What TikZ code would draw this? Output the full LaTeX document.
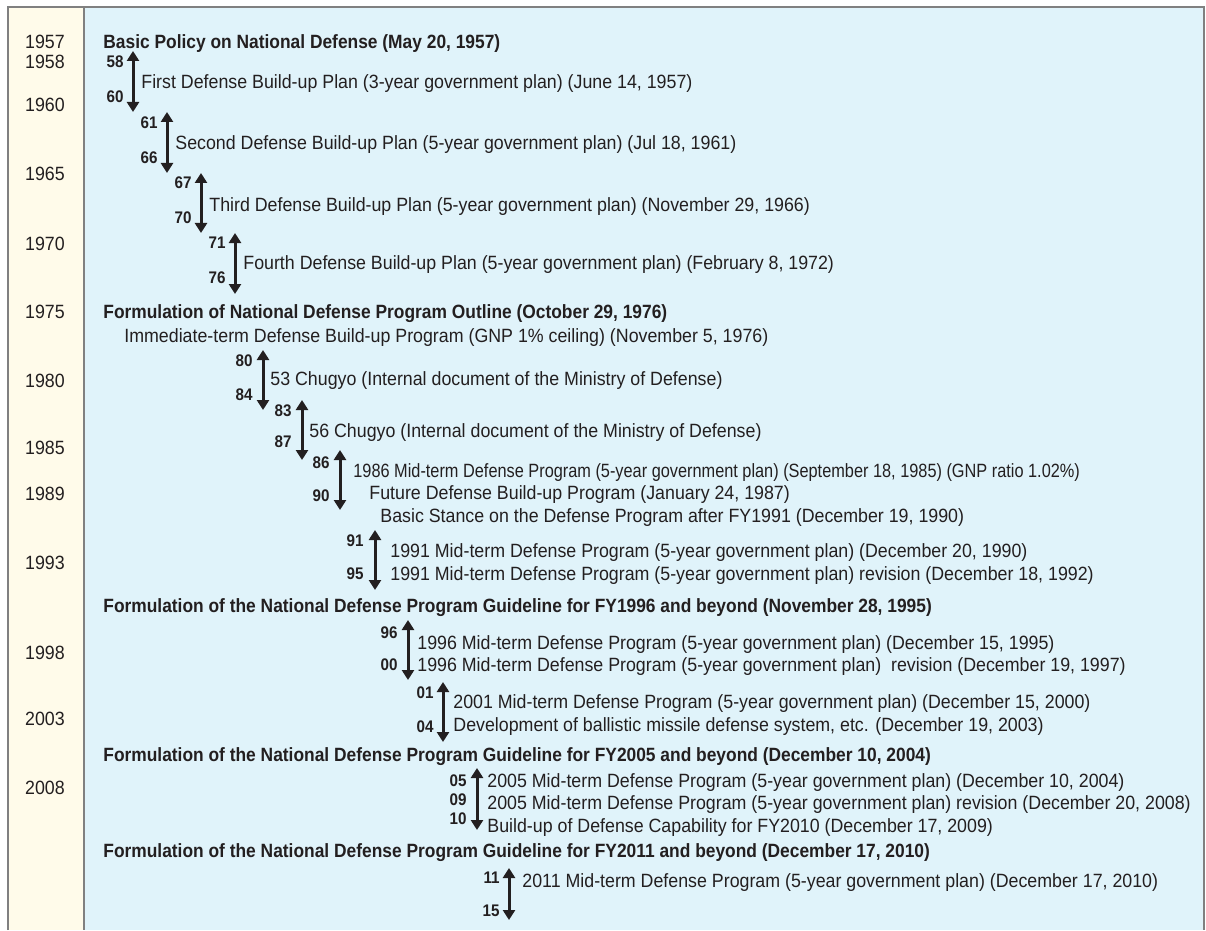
\documentclass[tikz,border=0pt]{standalone}
\usepackage{fontspec}
\setmainfont{Liberation Sans}[FakeStretch=0.927, BoldFeatures={FakeStretch=0.905}]
\newfontfamily\tightfont{Liberation Sans}[FakeStretch=0.85]
\usetikzlibrary{arrows.meta}

\definecolor{yearbg}{HTML}{FFFBEA}
\definecolor{planbg}{HTML}{E0F3FA}
\definecolor{ink}{HTML}{231F20}
\definecolor{rule}{HTML}{808080}

\begin{document}
\begin{tikzpicture}[x=0.5pt, y=-0.5pt,
    every node/.style={inner sep=0pt, text=ink, font=\fontsize{9.6}{11}\selectfont},
    plan/.style={anchor=base west, yshift=-3.5pt},
    head/.style={plan, font=\fontsize{9.6}{11}\selectfont\bfseries},
    year/.style={anchor=base, yshift=-3.5pt},
    tick/.style={anchor=base east, yshift=-3pt, font=\fontsize{8.4}{10}\selectfont\bfseries},
    span/.style={{Triangle[width=6pt,length=5pt]}-{Triangle[width=6pt,length=5pt]}, line width=1.5pt, draw=ink}]

  % frame
  \fill[white] (0,0) rectangle (1206,930);
  \fill[yearbg] (8,7) rectangle (84,930);
  \fill[planbg] (84,7) rectangle (1204,930);
  \draw[rule, line width=0.9pt] (8,930) -- (8,7) -- (1204,7) -- (1204,930);
  \draw[rule, line width=0.7pt] (84,7) -- (84,930);

  % year column
  \foreach \yr/\y in {1957/42, 1958/62, 1960/105, 1965/174, 1970/243, 1975/311, 1980/380,
                      1985/447, 1989/493, 1993/562, 1998/652, 2003/718, 2008/787}
    \node[year] (y\yr) at (45,\y) {\yr};

  % headings
  \node[head] (h1) at (103,42) {Basic Policy on National Defense (May 20, 1957)};
  \node[head] (h2) at (103,311) {Formulation of National Defense Program Outline (October 29, 1976)};
  \node[head] (h3) at (103,605) {Formulation of the National Defense Program Guideline for FY1996 and beyond (November 28, 1995)};
  \node[head] (h4) at (103,754) {Formulation of the National Defense Program Guideline for FY2005 and beyond (December 10, 2004)};
  \node[head] (h5) at (103,850) {Formulation of the National Defense Program Guideline for FY2011 and beyond (December 17, 2010)};

  % plan periods
  \foreach \n/\x/\t/\b in {1/133/51/112, 2/167/112/173, 3/201/173/233, 4/235/233/294,
                           5/263/350/410, 6/302/400/460, 7/340/450/510, 8/375/530/590,
                           9/408/620/680, 10/443/682/742, 11/477/768/830, 12/509/868/920}
  {
    \coordinate (a\n t) at (\x,\t);
    \coordinate (a\n b) at (\x,\b);
    \draw[span] (a\n t) -- (a\n b);
  }

  \foreach \lab/\x/\y in {58/124/62, 60/124/97, 61/158/123, 66/158/157, 67/192/183, 70/192/218,
                          71/226/243, 76/226/278, 80/253/360, 84/253/394, 83/292/410, 87/292/441,
                          86/330/462, 90/330/495, 91/364/540, 95/364/573, 96/398/632, 00/398/664,
                          01/434/692, 04/434/726, 05/467/780, 09/467/799, 10/467/818, 11/500/877, 15/500/910}
    \node[tick] (n\lab) at (\x,\y) {\lab};

  % plans
  \node[plan] (t1) at (141,82) {First Defense Build-up Plan (3-year government plan) (June 14, 1957)};
  \node[plan] (t2) at (175,143) {Second Defense Build-up Plan (5-year government plan) (Jul 18, 1961)};
  \node[plan] (t3) at (209,205) {Third Defense Build-up Plan (5-year government plan) (November 29, 1966)};
  \node[plan] (t4) at (243,263) {Fourth Defense Build-up Plan (5-year government plan) (February 8, 1972)};
  \node[plan] (t5) at (124,335) {Immediate-term Defense Build-up Program (GNP 1\% ceiling) (November 5, 1976)};
  \node[plan] (t6) at (270,378) {53 Chugyo (Internal document of the Ministry of Defense)};
  \node[plan] (t7) at (309,430) {56 Chugyo (Internal document of the Ministry of Defense)};
  \node[plan, font=\tightfont\fontsize{9.6}{11}\selectfont] (t8) at (353,470) {1986 Mid-term Defense Program (5-year government plan) (September 18, 1985) (GNP ratio 1.02\%)};
  \node[plan] (t9) at (369,492) {Future Defense Build-up Program (January 24, 1987)};
  \node[plan] (t10) at (380,515) {Basic Stance on the Defense Program after FY1991 (December 19, 1990)};
  \node[plan] (t11) at (390,550) {1991 Mid-term Defense Program (5-year government plan) (December 20, 1990)};
  \node[plan] (t12) at (390,573) {1991 Mid-term Defense Program (5-year government plan) revision (December 18, 1992)};
  \node[plan] (t13) at (417,642) {1996 Mid-term Defense Program (5-year government plan) (December 15, 1995)};
  \node[plan] (t14) at (417,664) {1996 Mid-term Defense Program (5-year government plan)\ \ revision (December 19, 1997)};
  \node[plan] (t15) at (453,701) {2001 Mid-term Defense Program (5-year government plan) (December 15, 2000)};
  \node[plan] (t16) at (453,724) {Development of ballistic missile defense system, etc. (December 19, 2003)};
  \node[plan] (t17) at (487,780) {2005 Mid-term Defense Program (5-year government plan) (December 10, 2004)};
  \node[plan] (t18) at (487,802) {2005 Mid-term Defense Program (5-year government plan) revision (December 20, 2008)};
  \node[plan] (t19) at (487,825) {Build-up of Defense Capability for FY2010 (December 17, 2009)};
  \node[plan] (t20) at (522,880) {2011 Mid-term Defense Program (5-year government plan) (December 17, 2010)};
\end{tikzpicture}
\end{document}
